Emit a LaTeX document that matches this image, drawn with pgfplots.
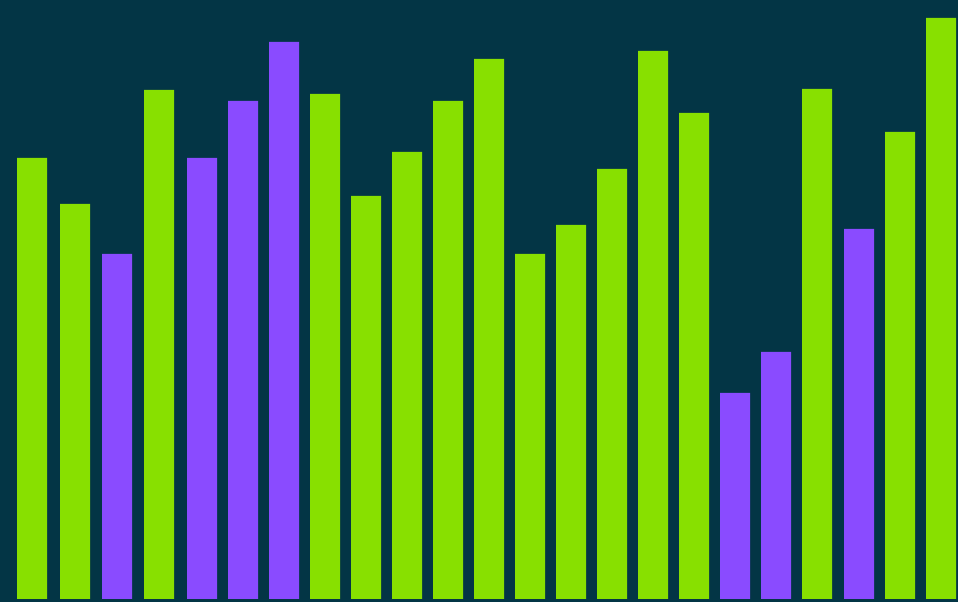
\documentclass[border=0pt]{standalone}
\usepackage{pgfplots}
\pgfplotsset{compat=1.18}
\definecolor{bg}{HTML}{033545}
\definecolor{gr}{HTML}{88E000}
\definecolor{pu}{HTML}{8A4BFF}
\begin{document}
\begin{tikzpicture}
\begin{axis}[
  scale only axis, width=958bp, height=602bp,
  xmin=0, xmax=958, ymin=-3, ymax=599,
  axis lines=none, ticks=none,
  axis background/.style={fill=bg},
  ybar, bar width=30, bar shift=0pt,
  clip=true,
]
\addplot[fill=gr, draw=none] coordinates {
(32,441) (75,395) (159,509) (325,505) (366,403) (407,447) (448,498) (489,540) (530,345) (571,374) (612,430) (653,548) (694,486) (817,510) (900,467) (941,581)
};
\addplot[fill=pu, draw=none] coordinates {
(117,345) (202,441) (243,498) (284,557) (735,206) (776,247) (859,370)
};
\end{axis}
\end{tikzpicture}
\end{document}
